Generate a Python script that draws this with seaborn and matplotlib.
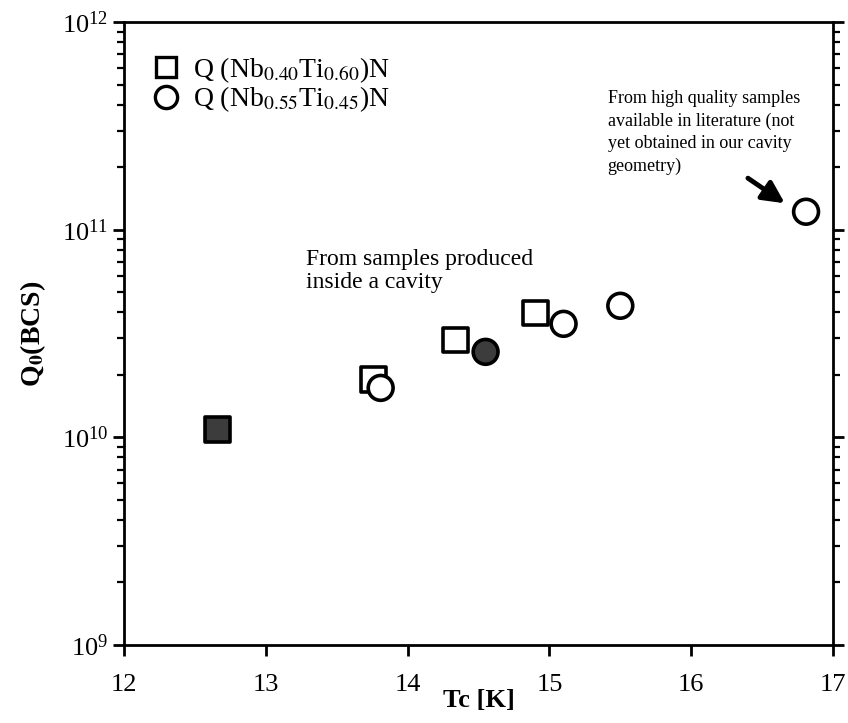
import matplotlib
matplotlib.use("Agg")
import matplotlib.pyplot as plt
import seaborn as sns
import pandas as pd
import numpy as np
from matplotlib.lines import Line2D
from matplotlib.ticker import LogLocator, FixedLocator, NullFormatter

# ---- data ----
tc_nb40 = [12.66, 13.76, 14.34, 14.90]
q_nb40 = [1.09e10, 1.89e10, 2.94e10, 3.97e10]
filled_nb40 = [True, False, False, False]

tc_nb55 = [13.81, 14.55, 15.10, 15.50, 16.81]
q_nb55 = [1.73e10, 2.58e10, 3.52e10, 4.30e10, 1.22e11]
filled_nb55 = [False, True, False, False, False]

series_labels = ["Q (Nb$_{0.40}$Ti$_{0.60}$)N", "Q (Nb$_{0.55}$Ti$_{0.45}$)N"]
x_ticks = [12, 13, 14, 15, 16, 17]

df = pd.DataFrame({
    "Tc": tc_nb40 + tc_nb55,
    "Q": q_nb40 + q_nb55,
    "series": [series_labels[0]] * len(tc_nb40) + [series_labels[1]] * len(tc_nb55),
    "filled": ["filled" if f else "open" for f in filled_nb40 + filled_nb55],
})

sns.set_theme(style="white")
plt.rcParams["font.family"] = ["Liberation Serif", "DejaVu Serif"]
plt.rcParams["mathtext.fontset"] = "stix"
for k in ["text.color", "axes.labelcolor", "xtick.color", "ytick.color"]:
    plt.rcParams[k] = "black"

fig = plt.figure(figsize=(8.48, 7.23), dpi=100)
ax = fig.add_axes([124 / 848, 1 - 645 / 723, (833 - 124) / 848, (645 - 22) / 723])

sns.scatterplot(
    data=df, x="Tc", y="Q", style="series", hue="filled",
    markers={series_labels[0]: "s", series_labels[1]: "o"},
    palette={"open": "white", "filled": "#3c3c3c"},
    edgecolor="black", linewidth=2.6, s=320, legend=False, ax=ax, zorder=3,
)

ax.set_yscale("log")
ax.set_xlim(12, 17)
ax.set_ylim(1e9, 1e12)
ax.xaxis.set_major_locator(FixedLocator(x_ticks))
ax.yaxis.set_major_locator(LogLocator(base=10, numticks=10))
ax.yaxis.set_minor_locator(LogLocator(base=10, subs=np.arange(2, 10), numticks=50))
ax.yaxis.set_minor_formatter(NullFormatter())

for sp in ax.spines.values():
    sp.set_linewidth(2.0)
    sp.set_color("black")

ax.tick_params(axis="both", which="major", direction="out", length=8, width=2.0,
               labelsize=19, colors="black", top=False, right=True, bottom=True, left=True)
ax.tick_params(axis="x", which="major", pad=13)
ax.tick_params(axis="y", which="minor", direction="out", length=5, width=1.6,
               left=True, right=True)

ax.set_xlabel("Tc [K]", fontsize=19, fontweight="bold", labelpad=-5)
ax.set_ylabel("Q$_\\mathbf{0}$(BCS)", fontsize=20, fontweight="bold", labelpad=10)

# legend
handles = [
    Line2D([], [], marker="s", linestyle="none", markersize=15, markerfacecolor="white",
           markeredgecolor="black", markeredgewidth=2.4),
    Line2D([], [], marker="o", linestyle="none", markersize=16, markerfacecolor="white",
           markeredgecolor="black", markeredgewidth=2.4),
]
ax.legend(handles, series_labels, loc="upper left", bbox_to_anchor=(-0.002, 0.992),
          frameon=False, fontsize=20, handletextpad=0.45, labelspacing=0.0,
          borderaxespad=0.6, handlelength=1.1)

# annotations
ax.text(13.28, 6.33e10, "From samples produced\ninside a cavity", fontsize=17,
        ha="left", va="center", linespacing=1.15)
ax.text(15.41, 2.94e11, "From high quality samples\navailable in literature (not\nyet obtained in our cavity\ngeometry)",
        fontsize=13, ha="left", va="center", linespacing=1.42)
ax.annotate("", xy=(16.66, 1.34e11), xytext=(16.40, 1.77e11),
            arrowprops=dict(arrowstyle="-|>,head_length=1.1,head_width=0.55",
                            color="black", lw=3.5, shrinkA=0, shrinkB=0))

fig.savefig("out.png", dpi=100)
